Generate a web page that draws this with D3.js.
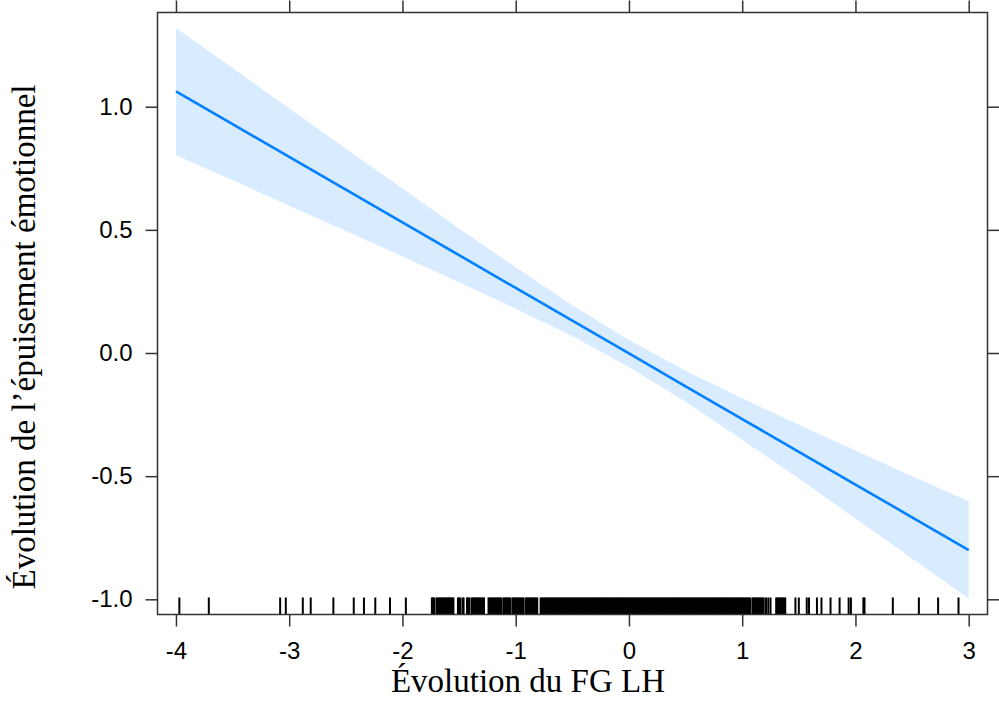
<!DOCTYPE html>
<html>
<head>
<meta charset="utf-8">
<script src="https://cdn.jsdelivr.net/npm/d3@7"></script>
<style>
  body { margin: 0; background: #fff; }
</style>
</head>
<body>
<div id="chart"></div>
<script>
// --------------------------------------
//  Data
// --------------------------------------

const fitX  = [-4, -3.5, -3, -2.5, -2, -1.5, -1, -0.5, 0, 0.5, 1, 1.5, 2, 2.5, 3];
const fitY  = [1.062, 0.929, 0.796, 0.663, 0.530, 0.397, 0.264, 0.131, -0.002, -0.135, -0.268, -0.401, -0.534, -0.667, -0.800];
const upper = [1.320, 1.157, 0.993, 0.830, 0.668, 0.506, 0.348, 0.194, 0.053, -0.072, -0.184, -0.291, -0.396, -0.500, -0.602];
const lower = [0.803, 0.701, 0.598, 0.495, 0.392, 0.287, 0.180, 0.068, -0.057, -0.198, -0.352, -0.510, -0.672, -0.834, -0.997];

const xTicks = [-4, -3, -2, -1, 0, 1, 2, 3];
const yTicks = [-1.0, -0.5, 0.0, 0.5, 1.0];

const xTitle = "Évolution du FG LH";
const yTitle = "Évolution de l’épuisement émotionnel";

// observed values of the predictor (rug)
const rugValues = [
  -3.97, -3.71, -3.08, -3.03, -2.88, -2.81, -2.61, -2.43, -2.34, -2.24, -2.11, -1.97,
  -1.74, -1.73, -1.72, -1.70, -1.69, -1.68, -1.67, -1.66, -1.65, -1.64, -1.63, -1.62,
  -1.61, -1.60, -1.59, -1.58, -1.57, -1.56, -1.55,
  -1.51, -1.50, -1.49, -1.47, -1.46, -1.43, -1.42, -1.41,
  -1.39, -1.38, -1.37, -1.36, -1.35, -1.34, -1.33, -1.32, -1.31, -1.30, -1.29, -1.28,
  -1.24, -1.23, -1.22, -1.21, -1.20, -1.19, -1.18, -1.17, -1.16, -1.15, -1.14, -1.13,
  -1.11, -1.10, -1.09, -1.08, -1.07, -1.06, -1.05,
  -1.03, -1.02, -1.01, -1.00, -0.99, -0.98, -0.97, -0.96, -0.95, -0.94, -0.93,
  -0.91, -0.90, -0.89, -0.88, -0.87, -0.86, -0.85, -0.84, -0.83, -0.82, -0.81,
  -0.78, -0.77, -0.76, -0.75, -0.74, -0.73, -0.72, -0.71,
  -0.70, -0.69, -0.68, -0.67, -0.66, -0.65, -0.64, -0.63, -0.62, -0.61,
  -0.60, -0.59, -0.58, -0.57, -0.56, -0.55, -0.54, -0.53, -0.52, -0.51,
  -0.50, -0.49, -0.48, -0.47, -0.46, -0.45, -0.44, -0.43, -0.42, -0.41,
  -0.40, -0.39, -0.38, -0.37, -0.36, -0.35, -0.34, -0.33, -0.32, -0.31,
  -0.30, -0.29, -0.28, -0.27, -0.26, -0.25, -0.24, -0.23, -0.22, -0.21,
  -0.20, -0.19, -0.18, -0.17, -0.16, -0.15, -0.14, -0.13, -0.12, -0.11,
  -0.10, -0.09, -0.08, -0.07, -0.06, -0.05, -0.04, -0.03, -0.02, -0.01,
  0.00, 0.01, 0.02, 0.03, 0.04, 0.05, 0.06, 0.07, 0.08, 0.09,
  0.10, 0.11, 0.12, 0.13, 0.14, 0.15, 0.16, 0.17, 0.18, 0.19,
  0.20, 0.21, 0.22, 0.23, 0.24, 0.25, 0.26, 0.27, 0.28, 0.29,
  0.30, 0.31, 0.32, 0.33, 0.34, 0.35, 0.36, 0.37, 0.38, 0.39,
  0.40, 0.41, 0.42, 0.43, 0.44, 0.45, 0.46, 0.47, 0.48, 0.49,
  0.50, 0.51, 0.52, 0.53, 0.54, 0.55, 0.56, 0.57, 0.58, 0.59,
  0.60, 0.61, 0.62, 0.63, 0.64, 0.65, 0.66, 0.67, 0.68, 0.69,
  0.70, 0.71, 0.72, 0.73, 0.74, 0.75, 0.76, 0.77, 0.78, 0.79,
  0.80, 0.81, 0.82, 0.83, 0.84, 0.85, 0.86, 0.87, 0.88, 0.89,
  0.90, 0.91, 0.92, 0.93, 0.94, 0.95, 0.96, 0.97, 0.98, 0.99,
  1.00, 1.01, 1.02, 1.03, 1.04, 1.05, 1.06, 1.07,
  1.09, 1.10, 1.11, 1.12, 1.13, 1.14, 1.15, 1.16, 1.17, 1.18, 1.19,
  1.21, 1.23, 1.25,
  1.30, 1.31, 1.32, 1.33, 1.34, 1.35, 1.36, 1.37, 1.38,
  1.47, 1.50, 1.57, 1.59, 1.66, 1.70, 1.78, 1.86, 1.94, 1.96, 2.07, 2.08, 2.33, 2.56, 2.73, 2.91
];

// --------------------------------------
//  Canvas
// --------------------------------------

const width = 999;
const height = 720;
const panel = {left: 157.5, right: 987.5, top: 12.5, bottom: 614.5};
const ink = "#333";

const svg = d3.select("#chart")
  .append("svg")
    .attr("width", width)
    .attr("height", height)
    .attr("viewBox", `0 0 ${width} ${height}`);

// R prints a plain hyphen, not the unicode minus d3 uses
const hyphen = f => d => f(d).replace("\u2212", "-");

// --------------------------------------
//  Scales
// --------------------------------------

const x = d3.scaleLinear()
    .domain([-4.163, 3.166])
    .range([panel.left, panel.right]);

const y = d3.scaleLinear()
    .domain([-1.0617, 1.3825])
    .range([panel.bottom, panel.top]);

// --------------------------------------
//  Confidence band and fit
// --------------------------------------

const band = fitX.map((v, i) => ({x: v, lo: lower[i], hi: upper[i]}));
const fit = fitX.map((v, i) => ({x: v, y: fitY[i]}));

svg.append("path")
    .datum(band)
    .attr("fill", "#d9ecff")
    .attr("d", d3.area()
      .x(d => x(d.x))
      .y0(d => y(d.lo))
      .y1(d => y(d.hi)));

svg.append("path")
    .datum(fit)
    .attr("fill", "none")
    .attr("stroke", "#0080ff")
    .attr("stroke-width", 2.6)
    .attr("d", d3.line()
      .x(d => x(d.x))
      .y(d => y(d.y)));

// --------------------------------------
//  Rug
// --------------------------------------

svg.append("g")
  .selectAll("line")
  .data(rugValues)
  .join("line")
    .attr("x1", d => x(d))
    .attr("x2", d => x(d))
    .attr("y1", panel.bottom)
    .attr("y2", panel.bottom - 17)
    .attr("stroke", "#000")
    .attr("stroke-width", 2);

// --------------------------------------
//  Axes (lattice style: ticks on all four sides)
// --------------------------------------

const tickLen = 12;

svg.append("g")
    .attr("transform", `translate(0, ${panel.bottom})`)
    .call(d3.axisBottom(x).tickValues(xTicks).tickSize(tickLen).tickPadding(15).tickFormat(hyphen(d3.format("d"))))
    .call(g => g.select(".domain").remove());

svg.append("g")
    .attr("transform", `translate(0, ${panel.top})`)
    .call(d3.axisTop(x).tickValues(xTicks).tickSize(tickLen).tickFormat(""))
    .call(g => g.select(".domain").remove());

svg.append("g")
    .attr("transform", `translate(${panel.left}, 0)`)
    .call(d3.axisLeft(y).tickValues(yTicks).tickSize(tickLen).tickPadding(13).tickFormat(hyphen(d3.format(".1f"))))
    .call(g => g.select(".domain").remove());

svg.append("g")
    .attr("transform", `translate(${panel.right}, 0)`)
    .call(d3.axisRight(y).tickValues(yTicks).tickSize(tickLen).tickFormat(""))
    .call(g => g.select(".domain").remove());

svg.selectAll(".tick line")
    .attr("stroke", ink)
    .attr("stroke-width", 1.5);

svg.selectAll(".tick text")
    .attr("fill", "#000")
    .style("font-family", "'Liberation Sans', Arial, sans-serif")
    .style("font-size", "24px");

svg.append("rect")
    .attr("x", panel.left)
    .attr("y", panel.top)
    .attr("width", panel.right - panel.left)
    .attr("height", panel.bottom - panel.top)
    .attr("fill", "none")
    .attr("stroke", ink)
    .attr("stroke-width", 1.5);

// --------------------------------------
//  Titles
// --------------------------------------

svg.append("text")
    .attr("x", 528)
    .attr("y", 692)
    .attr("text-anchor", "middle")
    .style("font-family", "'Liberation Serif', 'Times New Roman', serif")
    .style("font-size", "33px")
    .text(xTitle);

svg.append("text")
    .attr("transform", "translate(35, 337) rotate(-90)")
    .attr("text-anchor", "middle")
    .style("font-family", "'Liberation Serif', 'Times New Roman', serif")
    .style("font-size", "33px")
    .text(yTitle);
</script>
</body>
</html>
